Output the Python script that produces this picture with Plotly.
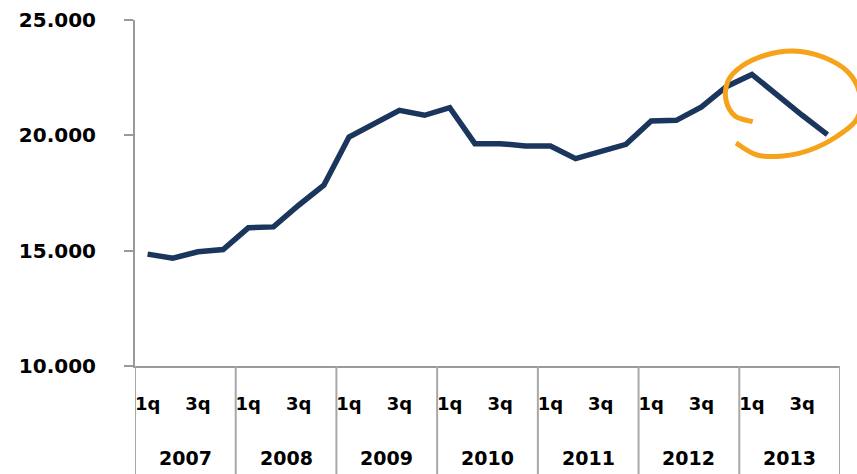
import plotly.graph_objects as go

years = ["2007", "2008", "2009", "2010", "2011", "2012", "2013"]
quarters = ["1q", "2q", "3q", "4q"]
shown_quarters = ["1q", "3q"]
values = [
    14850, 14670, 14950, 15050,
    15990, 16030, 16970, 17840,
    19930, 20510, 21080, 20870,
    21200, 19640, 19640, 19540,
    19540, 18990, 19280, 19610,
    20620, 20650, 21230, 22120,
    22640, 21730, 20870, 20030,
]
y_ticks = [10000, 15000, 20000, 25000]
y_ticktext = ["10.000", "15.000", "20.000", "25.000"]

n_q = len(quarters)
x_idx = list(range(len(years) * n_q))
labels = [f"{y} {q}" for y in years for q in quarters]

NAVY = "#1B365D"
ORANGE = "#F7A21B"
GRID = "#9A9A9A"
FONT = "DejaVu Sans"

W, H = 857, 474
ML, MR, MT, MB = 135, 17, 20, 108
PW, PH = W - ML - MR, H - MT - MB

fig = go.Figure()
fig.add_trace(go.Scatter(
    x=x_idx, y=values, mode="lines",
    line=dict(color=NAVY, width=5.5),
    text=labels, hoverinfo="text+y", showlegend=False,
))

tickvals = [i for i, lab in enumerate(labels) if lab.split()[1] in shown_quarters]
ticktext = [labels[i].split()[1] for i in tickvals]

shapes = []
# year dividers below the axis
for k in range(len(years) + 1):
    xv = k * n_q - 0.5
    shapes.append(dict(type="line", xref="x", yref="paper", x0=xv, x1=xv,
                       y0=0, y1=-0.33, line=dict(color="#A8A8A8", width=2)))

# hand-drawn orange circle (pixel guide points -> paper coordinates)
pts_px = [(752.7, 121.7), (735, 116), (726, 100), (728, 81), (742, 66), (766, 55),
          (793, 51), (823, 57), (848, 72), (860, 95), (857, 119), (836, 137),
          (810, 150), (783, 156), (757, 155), (736, 143)]
pts = [((px - ML) / PW, (H - MB - py) / PH) for px, py in pts_px]

def smooth_path(p):
    d = f"M {p[0][0]:.4f},{p[0][1]:.4f}"
    for i in range(len(p) - 1):
        p0 = p[i - 1] if i > 0 else p[i]
        p1, p2 = p[i], p[i + 1]
        p3 = p[i + 2] if i + 2 < len(p) else p[i + 1]
        c1 = (p1[0] + (p2[0] - p0[0]) / 6, p1[1] + (p2[1] - p0[1]) / 6)
        c2 = (p2[0] - (p3[0] - p1[0]) / 6, p2[1] - (p3[1] - p1[1]) / 6)
        d += f" C {c1[0]:.4f},{c1[1]:.4f} {c2[0]:.4f},{c2[1]:.4f} {p2[0]:.4f},{p2[1]:.4f}"
    return d

shapes.append(dict(type="path", xref="paper", yref="paper", path=smooth_path(pts),
                   line=dict(color=ORANGE, width=5), layer="above"))

annotations = []
for k, yr in enumerate(years):
    annotations.append(dict(
        x=k * n_q + (n_q - 1) / 2, xref="x", y=-(458 - (H - MB)) / PH, yref="paper",
        text=f"<b>{yr}</b>", showarrow=False, xanchor="center", yanchor="middle",
        font=dict(family=FONT, size=19, color="black"),
    ))

fig.update_layout(
    width=W, height=H,
    margin=dict(l=ML, r=MR, t=MT, b=MB, autoexpand=False),
    paper_bgcolor="white", plot_bgcolor="white",
    shapes=shapes, annotations=annotations,
    xaxis=dict(
        range=[-0.5, len(x_idx) - 0.5], tickvals=tickvals, ticktext=[f"<b>{t}</b>" for t in ticktext],
        showgrid=False, zeroline=False, showline=True, linecolor=GRID, linewidth=2,
        ticks="", ticklabelstandoff=20, automargin=False,
        tickfont=dict(family=FONT, size=18, color="black"),
    ),
    yaxis=dict(
        range=[10000, 25000], tickvals=y_ticks, ticktext=[f"<b>{t}</b>" for t in y_ticktext],
        showgrid=False, zeroline=False, showline=True, linecolor=GRID, linewidth=2,
        ticks="outside", ticklen=9, tickwidth=2, tickcolor=GRID, ticklabelstandoff=24,
        automargin=False,
        tickfont=dict(family=FONT, size=20, color="black"),
    ),
)

fig.write_html(
    "out.html",
    config={"displayModeBar": False},
    post_script="document.body.style.margin='0';document.body.style.overflow='hidden';",
)
